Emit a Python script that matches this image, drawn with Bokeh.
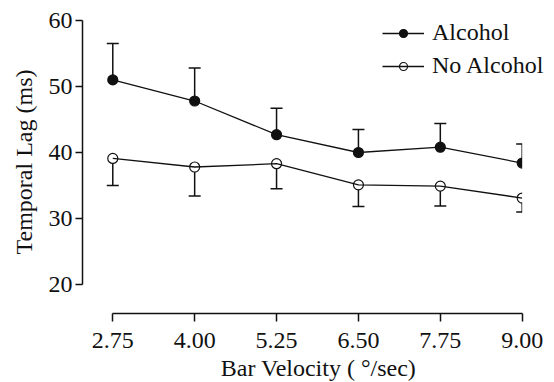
from bokeh.plotting import figure
from bokeh.models import (ColumnDataSource, Range1d, FixedTicker, NumeralTickFormatter,
                          Legend, LegendItem)
from bokeh.embed import file_html
from bokeh.resources import INLINE

# ---- data ----
velocity = [2.75, 4.00, 5.25, 6.50, 7.75, 9.00]
velocity_labels = ["2.75", "4.00", "5.25", "6.50", "7.75", "9.00"]
alcohol = [51.0, 47.8, 42.7, 40.0, 40.8, 38.4]
alcohol_err = [5.5, 5.0, 4.0, 3.5, 3.6, 2.9]          # drawn upward
no_alcohol = [39.1, 37.8, 38.3, 35.1, 34.9, 33.1]
no_alcohol_err = [4.1, 4.4, 3.8, 3.3, 3.0, 2.1]       # drawn downward
y_ticks = [20, 30, 40, 50, 60]

FONT = "Liberation Serif, Times New Roman, serif"
INK = "#111111"

X_START, X_END = 2.2877, 9.4931
Y_START, Y_END = 15.606, 61.515

src_a = ColumnDataSource(dict(
    x=velocity, y=alcohol,
    bound=[m + e for m, e in zip(alcohol, alcohol_err)]))
src_n = ColumnDataSource(dict(
    x=velocity, y=no_alcohol,
    bound=[m - e for m, e in zip(no_alcohol, no_alcohol_err)]))

p = figure(frame_width=472, frame_height=303,
           min_border_left=82, min_border_right=0,
           min_border_top=10, min_border_bottom=69,
           x_range=Range1d(X_START, X_END), y_range=Range1d(Y_START, Y_END),
           output_backend="svg", toolbar_location=None,
           background_fill_color="white", border_fill_color="white")
p.outline_line_color = None
p.xgrid.visible = False
p.ygrid.visible = False

# error bars (one-sided)
for src in (src_a, src_n):
    p.segment(x0="x", y0="y", x1="x", y1="bound", source=src,
              line_color=INK, line_width=1.5)
    p.scatter(x="x", y="bound", source=src, marker="dash", size=12,
              line_color=INK, line_width=1.5)

# markers then connecting lines
sa = p.scatter(x="x", y="y", source=src_a, marker="circle", size=10,
               fill_color=INK, line_color=INK, line_width=1.2)
sn = p.scatter(x="x", y="y", source=src_n, marker="circle", size=10,
               fill_color="white", line_color=INK, line_width=1.2)
la = p.line(x="x", y="y", source=src_a, line_color=INK, line_width=1.3)
ln = p.line(x="x", y="y", source=src_n, line_color=INK, line_width=1.3)

# the data area ends at the last velocity: hide everything drawn past it
p.quad(left=velocity[-1], right=X_END, bottom=Y_START, top=Y_END,
       fill_color="white", line_color=None)

# axes
xa = p.xaxis[0]
xa.ticker = FixedTicker(ticks=velocity)
xa.formatter = NumeralTickFormatter(format="0.00")
xa.major_label_overrides = {v: s for v, s in zip(velocity, velocity_labels)}
xa.bounds = (velocity[0], velocity[-1])
xa.axis_label = "Bar Velocity ( °/sec)"

ya = p.yaxis[0]
ya.ticker = FixedTicker(ticks=y_ticks)
ya.bounds = (y_ticks[0], y_ticks[-1])
ya.axis_label = "Temporal Lag (ms)"

for ax in (xa, ya):
    ax.axis_line_color = INK
    ax.axis_line_width = 1.5
    ax.major_tick_line_color = INK
    ax.major_tick_line_width = 1.5
    ax.major_tick_in = 0
    ax.minor_tick_line_color = None
    ax.major_label_text_font = FONT
    ax.major_label_text_font_size = "24px"
    ax.major_label_text_color = INK
    ax.axis_label_text_font = FONT
    ax.axis_label_text_font_size = "24px"
    ax.axis_label_text_font_style = "normal"
    ax.axis_label_text_color = INK

xa.major_tick_out = 8
xa.major_label_standoff = 11
xa.axis_label_standoff = 4
ya.major_tick_out = 7
ya.major_label_standoff = 3
ya.axis_label_standoff = 9

legend = Legend(items=[LegendItem(label="Alcohol", renderers=[sa, la]),
                       LegendItem(label="No Alcohol", renderers=[sn, ln])],
                location=(300, 234),
                border_line_color=None, background_fill_alpha=0,
                padding=0, margin=0, spacing=6,
                glyph_width=42, glyph_height=20, label_height=20,
                label_standoff=8,
                label_text_font=FONT, label_text_font_size="24px",
                label_text_color=INK)
p.add_layout(legend)

open("out.html", "w").write(file_html(p, INLINE))
